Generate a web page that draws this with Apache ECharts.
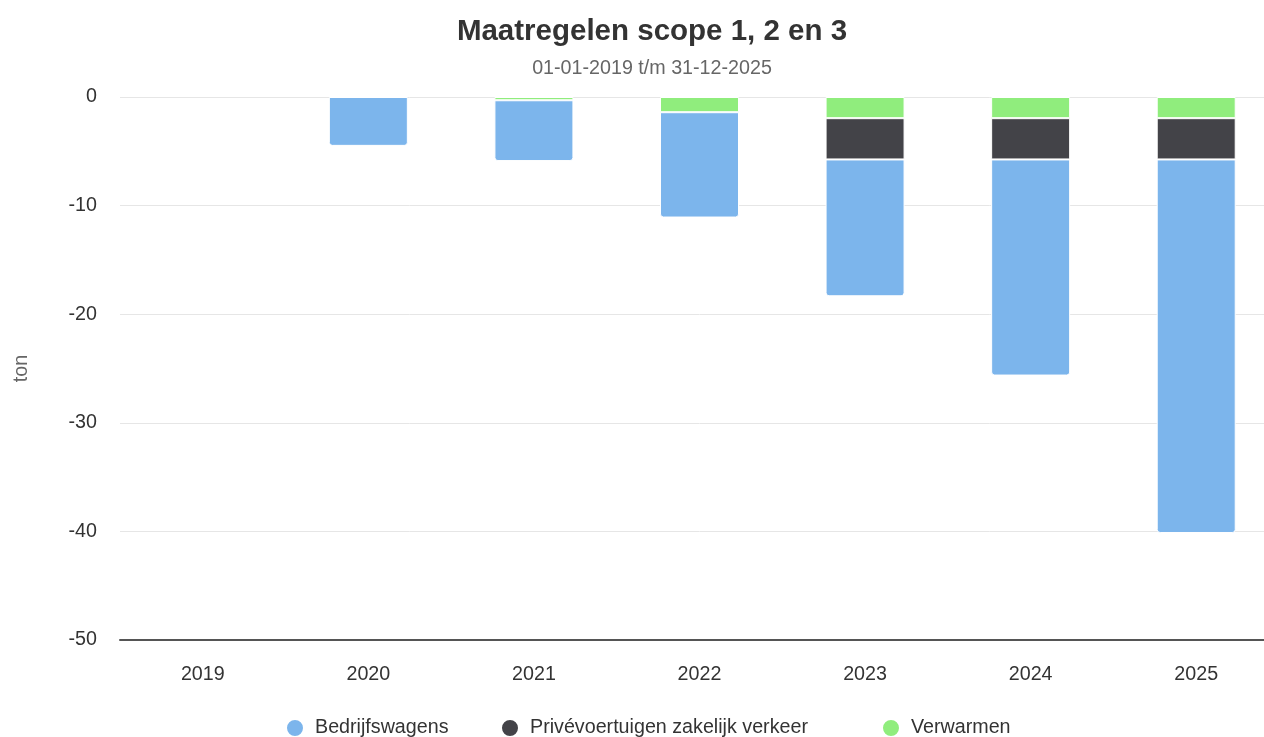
<!DOCTYPE html>
<html>
<head>
<meta charset="utf-8">
<script src="https://cdn.jsdelivr.net/npm/echarts@6/dist/echarts.min.js"></script>
<style>
  html, body { margin: 0; padding: 0; background: #fff; overflow: hidden; }
  #chart { width: 1304px; height: 737px; }
</style>
</head>
<body>
<div id="chart"></div>
<script>
const years = ['2019', '2020', '2021', '2022', '2023', '2024', '2025']
const bedrijfswagens = [null, -4.5, -5.6, -9.7, -12.6, -19.9, -34.4]
const priveVoertuigen = [null, null, null, null, -3.8, -3.8, -3.8]
const verwarmen = [null, null, -0.3, -1.4, -1.95, -1.95, -1.95]
const yTicks = [-50, -40, -30, -20, -10, 0]

const font = '"Liberation Sans", Arial, Helvetica, sans-serif'
const chart = echarts.init(document.getElementById('chart'))

function legendItem (name, left) {
  return {
    data: [name],
    left: left,
    top: 713,
    icon: 'circle',
    itemWidth: 18,
    itemHeight: 18,
    itemGap: 0,
    selectedMode: false,
    textStyle: { fontFamily: font, fontSize: 19.7, color: '#333', padding: [0, 0, 0, 6] }
  }
}

const option = {
  animation: false,
  color: ['#90ed7d', '#434348', '#7cb5ec'],
  title: [
    {
      text: 'Maatregelen scope 1, 2 en 3',
      left: 'center',
      top: 12,
      textStyle: { fontFamily: font, fontSize: 29.5, fontWeight: 'bold', color: '#333' }
    },
    {
      text: '01-01-2019 t/m 31-12-2025',
      left: 'center',
      top: 54,
      textStyle: { fontFamily: font, fontSize: 19.7, fontWeight: 'normal', color: '#666' }
    }
  ],
  legend: [
    legendItem('Bedrijfswagens', 280),
    legendItem('Privévoertuigen zakelijk verkeer', 495),
    legendItem('Verwarmen', 876)
  ],
  grid: { left: 120, right: 25, top: 97, bottom: 97, containLabel: false },
  xAxis: {
    type: 'category',
    data: years,
    axisLine: { onZero: false, lineStyle: { color: '#555', width: 2 } },
    axisTick: { show: false },
    axisLabel: { margin: 25, fontFamily: font, fontSize: 19.7, color: '#333' }
  },
  yAxis: {
    type: 'value',
    min: yTicks[0],
    max: yTicks[yTicks.length - 1],
    interval: 10,
    name: 'ton',
    nameLocation: 'middle',
    nameGap: 88,
    nameTextStyle: { fontFamily: font, fontSize: 19.7, color: '#666' },
    axisLine: { show: false },
    axisTick: { show: false },
    axisLabel: { margin: 23, fontFamily: font, fontSize: 19.7, color: '#333' },
    splitLine: { lineStyle: { color: '#e6e6e6' } }
  },
  series: [
    {
      name: 'Verwarmen',
      type: 'bar',
      stack: 'scope',
      barWidth: 79,
      data: verwarmen,
      itemStyle: { borderColor: '#fff', borderWidth: 1 }
    },
    {
      name: 'Privévoertuigen zakelijk verkeer',
      type: 'bar',
      stack: 'scope',
      barWidth: 79,
      data: priveVoertuigen,
      itemStyle: { borderColor: '#fff', borderWidth: 1 }
    },
    {
      name: 'Bedrijfswagens',
      type: 'bar',
      stack: 'scope',
      barWidth: 79,
      data: bedrijfswagens,
      itemStyle: { borderColor: '#fff', borderWidth: 1, borderRadius: [0, 0, 3, 3] }
    }
  ]
}

chart.setOption(option)
</script>
</body>
</html>
